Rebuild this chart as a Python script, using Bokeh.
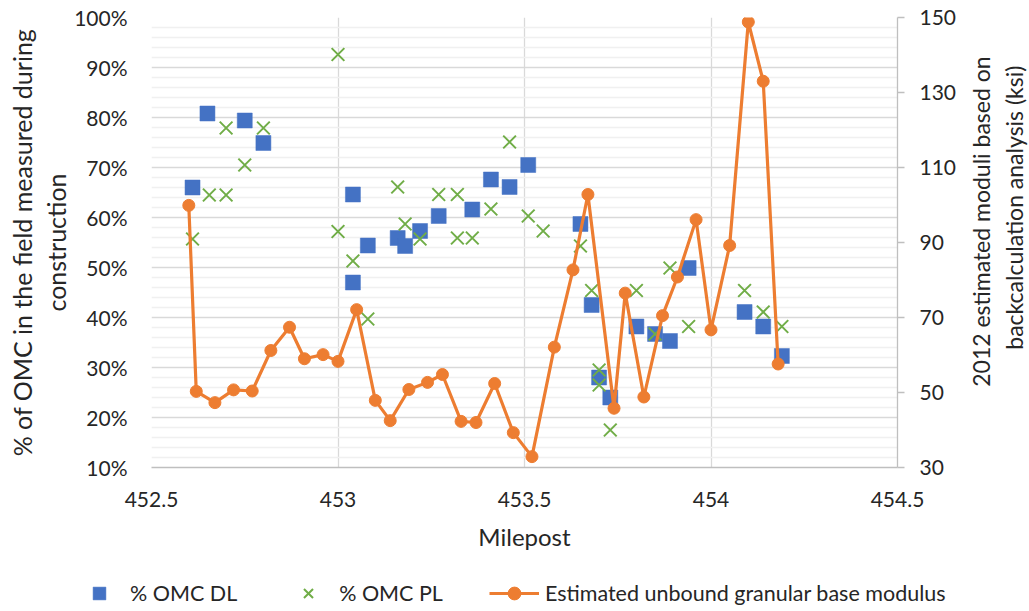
from bokeh.plotting import figure
from bokeh.layouts import column, row
from bokeh.models import (Range1d, LinearAxis, FixedTicker, PrintfTickFormatter,
                          NumeralTickFormatter, Legend, LegendItem, Label, Title)
from bokeh.embed import file_html
from bokeh.resources import INLINE
import math

# ---------------- data ----------------
dl_x = [452.61, 452.65, 452.75, 452.80, 453.04, 453.04, 453.08, 453.16, 453.18, 453.22,
        453.27, 453.36, 453.41, 453.46, 453.51, 453.65, 453.68, 453.70, 453.73, 453.80,
        453.85, 453.89, 453.94, 454.09, 454.14, 454.19]
dl_y = [66.0, 80.8, 79.4, 74.9, 64.6, 47.0, 54.4, 55.9, 54.3, 57.3,
        60.3, 61.6, 67.6, 66.1, 70.5, 58.7, 42.5, 28.0, 24.0, 38.2,
        36.7, 35.3, 49.9, 41.1, 38.2, 32.3]

pl_x = [452.61, 452.655, 452.70, 452.70, 452.75, 452.80, 453.00, 453.00, 453.04, 453.08,
        453.16, 453.18, 453.22, 453.27, 453.32, 453.32, 453.36, 453.41, 453.46, 453.51,
        453.55, 453.65, 453.68, 453.70, 453.70, 453.73, 453.80, 453.85, 453.89, 453.94,
        454.09, 454.14, 454.19]
pl_y = [55.7, 64.5, 64.5, 77.9, 70.5, 77.9, 92.6, 57.2, 51.3, 39.7,
        66.1, 58.7, 55.7, 64.6, 64.6, 55.9, 55.9, 61.7, 75.1, 60.3,
        57.3, 54.3, 45.4, 29.5, 26.5, 17.5, 45.4, 36.7, 49.9, 38.2,
        45.4, 41.1, 38.2]

mod_x = [452.60, 452.62, 452.67, 452.72, 452.77, 452.82, 452.87, 452.91, 452.96, 453.00,
         453.05, 453.10, 453.14, 453.19, 453.24, 453.28, 453.33, 453.37, 453.42, 453.47,
         453.52, 453.58, 453.63, 453.67, 453.74, 453.77, 453.82, 453.87, 453.91, 453.96,
         454.00, 454.05, 454.10, 454.14, 454.18]
mod_y = [99.9, 50.3, 47.3, 50.7, 50.4, 61.2, 67.4, 59.0, 60.1, 58.3,
         72.1, 47.9, 42.5, 50.8, 52.7, 54.8, 42.3, 42.0, 52.4, 39.3,
         32.9, 62.1, 82.7, 102.8, 45.8, 76.5, 48.8, 70.5, 80.8, 96.1,
         66.7, 89.2, 148.8, 133.0, 57.6]

x_ticks = [452.5, 453.0, 453.5, 454.0, 454.5]
left_ticks = [10, 20, 30, 40, 50, 60, 70, 80, 90, 100]
right_ticks = [30, 50, 70, 90, 110, 130, 150]

series_names = ["% OMC DL", "% OMC PL", "Estimated unbound granular base modulus"]
x_title = "Milepost"
left_title = ["% of OMC in the field measured during", "construction"]
right_title = ["2012 estimated moduli based on", "backcalculation analysis  (ksi)"]

# ---------------- style ----------------
FONT = "Lato"
TXT = "#262626"
BLUE = "#4472C4"
GREEN = "#70AD47"
ORANGE = "#ED7D31"
GRID = "#d9d9d9"

MAIN_W, MAIN_H = 960, 560
RT_W = 1029 - MAIN_W
LEG_H = 611 - MAIN_H

p = figure(width=MAIN_W, height=MAIN_H, output_backend="svg", toolbar_location=None,
           x_range=Range1d(452.5, 454.5), y_range=Range1d(10, 100),
           min_border_left=151, min_border_right=MAIN_W - 897, min_border_top=17,
           min_border_bottom=MAIN_H - 467, outline_line_color=None,
           background_fill_color="white", border_fill_color="white")
p.extra_y_ranges = {"mod": Range1d(30, 150)}

# x axis
xa = p.xaxis[0]
xa.ticker = FixedTicker(ticks=x_ticks)
xa.formatter = NumeralTickFormatter(format="0.[0]")
xa.axis_line_color = "#bfbfbf"
xa.axis_line_width = 1.3
xa.major_tick_line_color = None
xa.minor_tick_line_color = None
xa.major_tick_out = 0
xa.major_label_standoff = 24
xa.major_label_text_font = FONT
xa.major_label_text_font_size = "21px"
xa.major_label_text_color = TXT
xa.axis_label = x_title
xa.axis_label_text_font = FONT
xa.axis_label_text_font_size = "24px"
xa.axis_label_text_font_style = "normal"
xa.axis_label_text_color = TXT
xa.axis_label_standoff = 12

# left axis
ya = p.yaxis[0]
minor = [v for v in range(10, 101, 2) if v % 10 != 0]
ya.ticker = FixedTicker(ticks=left_ticks, minor_ticks=minor)
ya.formatter = PrintfTickFormatter(format="%d%%")
ya.axis_line_color = None
ya.major_tick_line_color = None
ya.minor_tick_line_color = None
ya.major_tick_out = 0
ya.major_label_standoff = 20
ya.major_label_text_font = FONT
ya.major_label_text_font_size = "21px"
ya.major_label_text_color = TXT

# left titles (stacked outward from the axis)
for t in reversed(left_title):
    p.add_layout(Title(text=t, align="center", text_font=FONT, text_font_size="25px",
                       text_font_style="normal", text_color=TXT, standoff=2), "left")

# right axis
ra = LinearAxis(y_range_name="mod", ticker=FixedTicker(ticks=right_ticks))
ra.axis_line_color = "#bfbfbf"
ra.axis_line_width = 1.3
ra.major_tick_line_color = "#bfbfbf"
ra.major_tick_line_width = 1.3
ra.major_tick_out = 7
ra.major_tick_in = 0
ra.minor_tick_line_color = None
ra.major_label_standoff = 15
ra.major_label_text_font = FONT
ra.major_label_text_font_size = "21px"
ra.major_label_text_color = TXT
p.add_layout(ra, "right")

# grids
p.xgrid.grid_line_color = GRID
p.xgrid.grid_line_width = 1.3
p.ygrid.grid_line_color = GRID
p.ygrid.grid_line_width = 1.3
p.ygrid.minor_grid_line_color = "#f0f0f0"
p.ygrid.minor_grid_line_width = 1.5

# data
def draw(fig, **kw):
    a = fig.scatter(dl_x, dl_y, marker="square", size=15, fill_color=BLUE,
                    line_color=BLUE, line_width=0.5)
    b = fig.scatter(pl_x, pl_y, marker="x", size=18, line_color=GREEN, line_width=2)
    c = fig.line(mod_x, mod_y, line_color=ORANGE, line_width=3.2, **kw)
    d = fig.scatter(mod_x, mod_y, marker="circle", size=12, fill_color=ORANGE,
                    line_color=ORANGE, **kw)
    return a, b, c, d

draw(p, y_range_name="mod")

# right-hand title panel
rt = figure(width=RT_W, height=MAIN_H, output_backend="svg", toolbar_location=None,
            x_range=Range1d(0, RT_W), y_range=Range1d(0, MAIN_H),
            x_axis_location=None, y_axis_location=None, min_border=0,
            outline_line_color=None, background_fill_color="white",
            border_fill_color="white")
rt.grid.visible = False
for i, (t, yc) in enumerate(zip(right_title, [254, 233])):
    rt.add_layout(Label(x=20 + 33 * i, y=MAIN_H - yc, text=t, angle=math.pi / 2,
                        text_align="center", text_baseline="middle", text_font=FONT,
                        text_font_size="23px", text_color=TXT))

# legend panel (same series drawn off-range so only the legend shows)
lg = figure(width=1029, height=LEG_H, output_backend="svg", toolbar_location=None,
            x_range=Range1d(0, 1), y_range=Range1d(0, 1),
            x_axis_location=None, y_axis_location=None, min_border=0,
            outline_line_color=None, background_fill_color="white",
            border_fill_color="white")
lg.grid.visible = False
la, lb, lc, ld = draw(lg)
legend = Legend(items=[LegendItem(label=series_names[0], renderers=[la]),
                       LegendItem(label=series_names[1], renderers=[lb]),
                       LegendItem(label=series_names[2], renderers=[lc, ld])],
                orientation="horizontal", location=(74, 2),
                glyph_width=50, glyph_height=32, label_standoff=6, spacing=46,
                padding=0, margin=0, border_line_color=None,
                background_fill_alpha=0,
                label_text_font=FONT, label_text_font_size="21.5px",
                label_text_color=TXT)
lg.add_layout(legend, "center")

layout = column(row(p, rt), lg)
open("out.html", "w").write(file_html(layout, INLINE))
